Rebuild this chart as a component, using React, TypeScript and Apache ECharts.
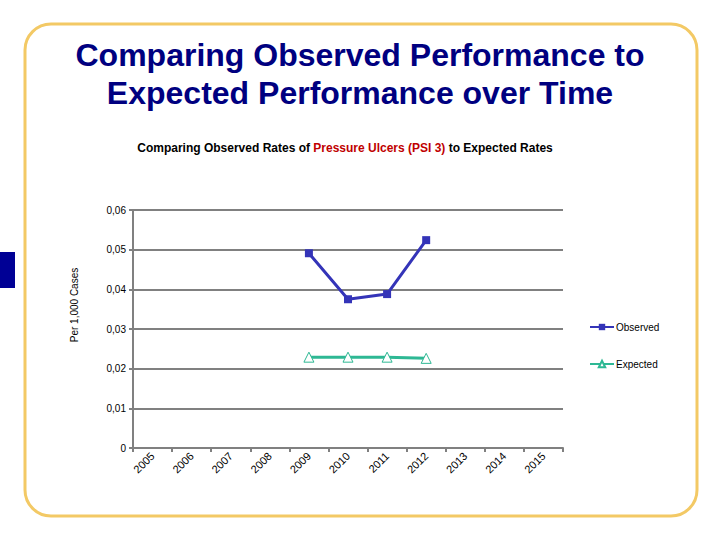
import React, { useEffect, useRef } from "react";
import * as echarts from "echarts";

const years = ["2005", "2006", "2007", "2008", "2009", "2010", "2011", "2012", "2013", "2014", "2015"];
const observed = [null, null, null, null, 0.0491, 0.0375, 0.0388, 0.0524, null, null, null];
const expected = [null, null, null, null, 0.0229, 0.0229, 0.0229, 0.0226, null, null, null];
const yTicks = { min: 0, max: 0.06, interval: 0.01 };

export default function App() {
  const ref = useRef<HTMLDivElement>(null);
  useEffect(() => {
    const chart = echarts.init(ref.current!, null, { renderer: "svg" });
    const font = "'Liberation Sans', Arial, sans-serif";
    chart.setOption({
      animation: false,
      backgroundColor: "#ffffff",
      textStyle: { fontFamily: font },
      graphic: [
        {
          type: "rect",
          shape: { x: 25, y: 24, width: 672, height: 492, r: 26 },
          style: { fill: "none", stroke: "#F3C965", lineWidth: 3 },
          z: 0,
        },
        {
          type: "rect",
          shape: { x: 0, y: 252, width: 15, height: 36 },
          style: { fill: "#000095" },
        },
        {
          type: "text",
          x: 360,
          y: 74,
          style: {
            text: "Comparing Observed Performance to\nExpected Performance over Time",
            font: `bold 32px ${font}`,
            fill: "#000080",
            align: "center",
            verticalAlign: "middle",
            lineHeight: 38,
          },
        },
        {
          type: "text",
          x: 345,
          y: 148,
          style: {
            text: "{b|Comparing Observed Rates of }{r|Pressure Ulcers (PSI 3)}{b| to Expected Rates}",
            align: "center",
            verticalAlign: "middle",
            rich: {
              b: { font: `bold 12px ${font}`, fill: "#000000" },
              r: { font: `bold 12px ${font}`, fill: "#C00000" },
            },
          },
        },
        {
          type: "text",
          x: 74,
          y: 305,
          rotation: Math.PI / 2,
          style: {
            text: "Per 1,000 Cases",
            font: `10px ${font}`,
            fill: "#000",
            align: "center",
            verticalAlign: "middle",
          },
        },
      ],
      grid: { left: 133, right: 157, top: 210, bottom: 92, containLabel: false },
      legend: {
        orient: "vertical",
        left: 584,
        top: 317,
        itemGap: 27,
        itemWidth: 24,
        itemHeight: 8,
        textStyle: { fontSize: 10, color: "#000", fontFamily: font, padding: [0, 0, 0, -3] },
        data: ["Observed", "Expected"],
      },
      xAxis: {
        type: "category",
        data: years,
        boundaryGap: true,
        axisLine: { lineStyle: { color: "#808080", width: 2 } },
        axisTick: { show: true, length: 4, lineStyle: { color: "#808080", width: 2 } },
        axisLabel: { rotate: 45, fontSize: 11, color: "#000", margin: 6, fontFamily: font },
        splitLine: { show: false },
      },
      yAxis: {
        type: "value",
        min: yTicks.min,
        max: yTicks.max,
        interval: yTicks.interval,
        axisLine: { show: true, lineStyle: { color: "#808080", width: 2 } },
        axisTick: { show: true, length: 4, lineStyle: { color: "#808080", width: 2 } },
        axisLabel: {
          fontSize: 10,
          color: "#000",
          margin: 7,
          fontFamily: font,
          formatter: (v: number) => (v === 0 ? "0" : v.toFixed(2).replace(".", ",")),
        },
        splitLine: { show: true, lineStyle: { color: "#808080", width: 2 } },
      },
      series: [
        {
          name: "Observed",
          type: "line",
          data: observed,
          symbol: "rect",
          symbolSize: 8,
          lineStyle: { color: "#3434B8", width: 3 },
          itemStyle: { color: "#3434B8", borderWidth: 0 },
          z: 3,
        },
        {
          name: "Expected",
          type: "line",
          data: expected,
          symbol: "triangle",
          symbolSize: 10,
          lineStyle: { color: "#2EB894", width: 3 },
          itemStyle: { color: "#ffffff", borderColor: "#2EB894", borderWidth: 1 },
          z: 3,
        },
      ],
    });
    return () => chart.dispose();
  }, []);
  return <div ref={ref} style={{ width: 720, height: 540, position: "absolute", left: 0, top: 0 }} />;
}
